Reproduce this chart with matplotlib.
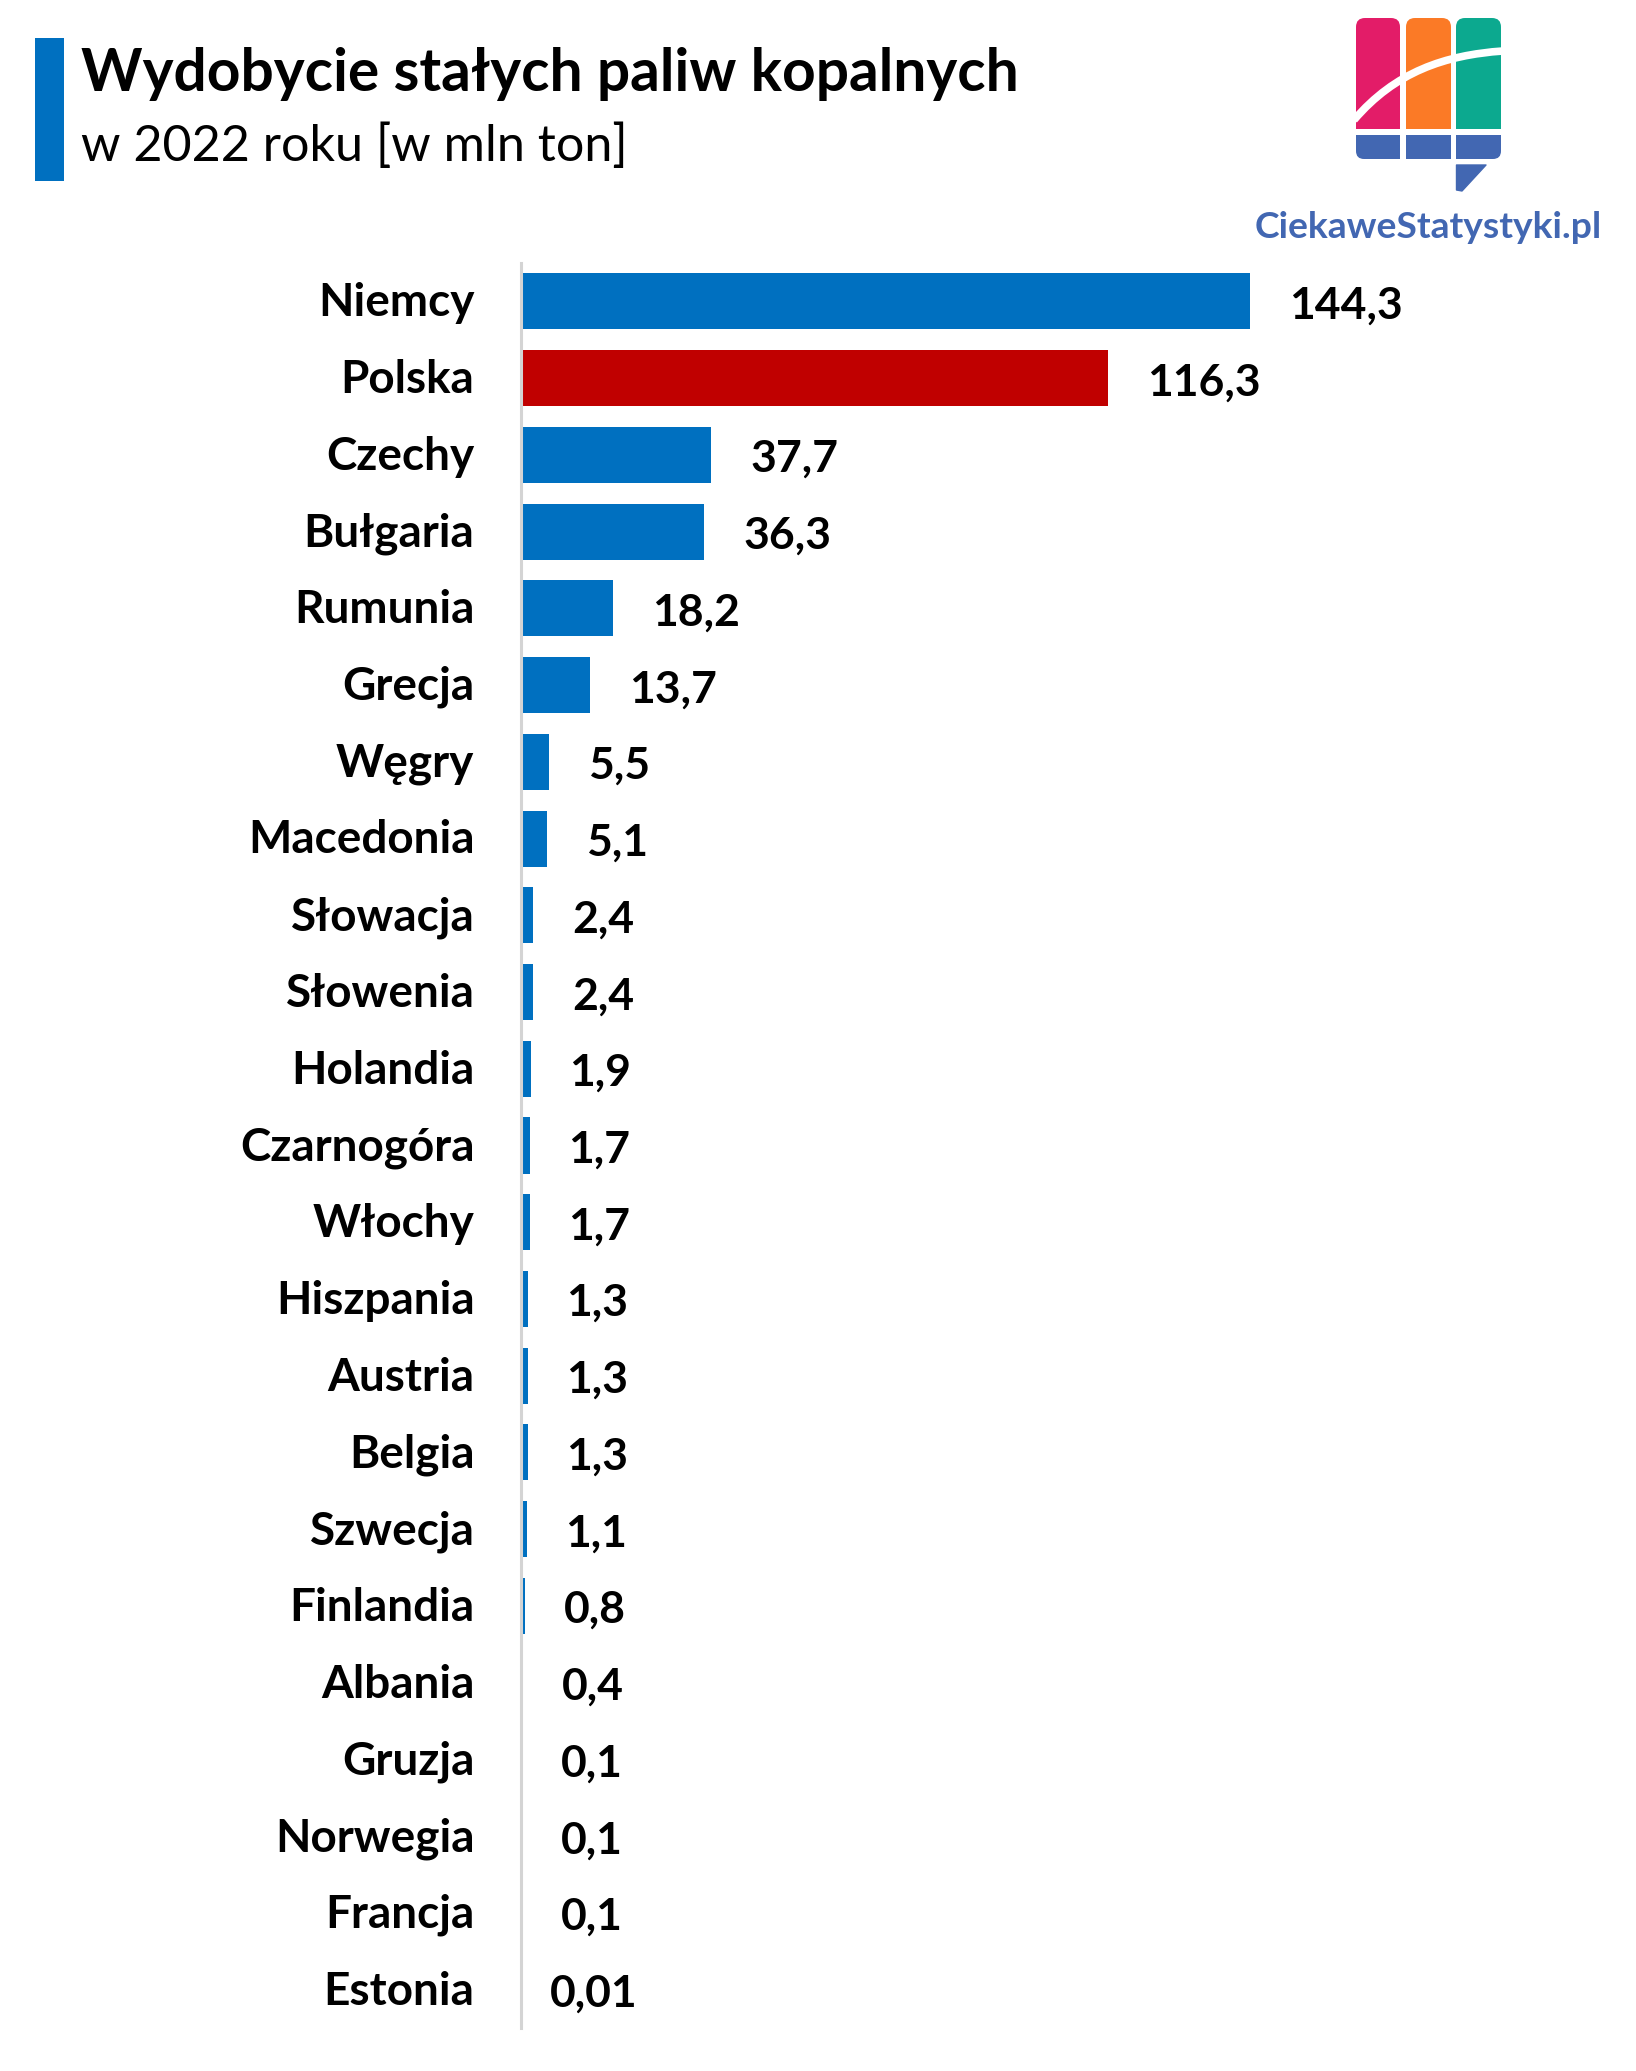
import matplotlib
matplotlib.use('Agg')
import matplotlib.pyplot as plt
from matplotlib.patches import Rectangle, Polygon, FancyBboxPatch, PathPatch
from matplotlib.path import Path
from matplotlib.transforms import ScaledTranslation

plt.rcParams['font.family'] = ['Lato', 'DejaVu Sans']

countries = ['Niemcy', 'Polska', 'Czechy', 'Bułgaria', 'Rumunia', 'Grecja', 'Węgry', 'Macedonia',
             'Słowacja', 'Słowenia', 'Holandia', 'Czarnogóra', 'Włochy', 'Hiszpania', 'Austria',
             'Belgia', 'Szwecja', 'Finlandia', 'Albania', 'Gruzja', 'Norwegia', 'Francja', 'Estonia']
values = [144.3, 116.3, 37.7, 36.3, 18.2, 13.7, 5.5, 5.1,
          2.4, 2.4, 1.9, 1.7, 1.7, 1.3, 1.3,
          1.3, 1.1, 0.8, 0.4, 0.1, 0.1, 0.1, 0.01]
value_labels = ['144,3', '116,3', '37,7', '36,3', '18,2', '13,7', '5,5', '5,1',
                '2,4', '2,4', '1,9', '1,7', '1,7', '1,3', '1,3',
                '1,3', '1,1', '0,8', '0,4', '0,1', '0,1', '0,1', '0,01']
highlight = 'Polska'

W, H = 1636, 2071
BLUE = '#0070C0'
RED = '#C00000'
LOGO_BLUE = '#4267B2'

fig = plt.figure(figsize=(W / 100, H / 100), dpi=100, facecolor='white')

# wykres - os Y na x=521 px, 263..2028 px w pionie
ax = fig.add_axes([521 / W, 1 - 2028 / H, (W - 521) / W, (2028 - 263) / H])
colors = [RED if c == highlight else BLUE for c in countries]
ax.barh(range(len(countries)), values, height=0.73, color=colors)
ax.set_xlim(0, (W - 521) / 5.05)
ax.set_ylim(len(countries) - 0.5, -0.5)
ax.set_yticks(range(len(countries)))
ax.set_yticklabels(countries, fontsize=33, fontweight='bold', color='black')
ax.tick_params(axis='y', length=0, pad=33.5)
ax.set_xticks([])
for s in ['top', 'right', 'bottom']:
    ax.spines[s].set_visible(False)
ax.spines['left'].set_color('#D4D4D4')
ax.spines['left'].set_linewidth(2.2)

# nazwy krajow minimalnie wyzej
shift = ScaledTranslation(0, 1.5 / 72, fig.dpi_scale_trans)
for lab in ax.get_yticklabels():
    lab.set_transform(lab.get_transform() + shift)

for i, (v, t) in enumerate(zip(values, value_labels)):
    # 0,01 stoi blizej osi niz pozostale etykiety
    off = 20.5 if t == '0,01' else 28
    ax.annotate(t, (v, i), xytext=(off, -3), textcoords='offset points',
                va='center', ha='left', fontsize=32, fontweight='bold', color='black')

# warstwa w pikselach - naglowek i logo
over = fig.add_axes([0, 0, 1, 1])
over.set_xlim(0, W)
over.set_ylim(H, 0)
over.axis('off')
over.patch.set_alpha(0)

over.add_patch(Rectangle((35, 38), 29, 143, color=BLUE, lw=0))
over.text(81, 91, 'Wydobycie stałych paliw kopalnych', fontsize=42.2, fontweight='bold',
          va='baseline', ha='left', color='black')
over.text(81, 161, 'w 2022 roku [w mln ton]', fontsize=36.2, va='baseline', ha='left', color='black')


def logo_column(x0, x1, color):
    over.add_patch(FancyBboxPatch((x0 + 9, 27), x1 - x0 - 18, 60, boxstyle='round,pad=9',
                                  fc=color, ec='none'))
    over.add_patch(Rectangle((x0, 60), x1 - x0, 69, color=color, lw=0))


logo_column(1356, 1400, '#E31C68')
logo_column(1406, 1451, '#FB7A26')
logo_column(1456, 1501, '#0CA98F')

# dolny rzad logo
over.add_patch(FancyBboxPatch((1364, 143), 28, 8, boxstyle='round,pad=8', fc=LOGO_BLUE, ec='none'))
over.add_patch(Rectangle((1356, 135), 44, 12, color=LOGO_BLUE, lw=0))
over.add_patch(Rectangle((1390, 135), 10, 24, color=LOGO_BLUE, lw=0))
over.add_patch(Rectangle((1406, 135), 45, 24, color=LOGO_BLUE, lw=0))
over.add_patch(FancyBboxPatch((1464, 143), 29, 8, boxstyle='round,pad=8', fc=LOGO_BLUE, ec='none'))
over.add_patch(Rectangle((1456, 135), 45, 12, color=LOGO_BLUE, lw=0))
over.add_patch(Rectangle((1456, 135), 10, 24, color=LOGO_BLUE, lw=0))
over.add_patch(Polygon([(1456.5, 165), (1486, 165), (1462, 191), (1456.5, 190)], closed=True,
                       fc=LOGO_BLUE, ec=LOGO_BLUE, lw=1, joinstyle='round'))

# biala krzywa na slupkach
curve = Path([(1354, 120), (1395, 72), (1445, 55), (1503, 51)],
             [Path.MOVETO, Path.CURVE4, Path.CURVE4, Path.CURVE4])
over.add_patch(PathPatch(curve, fc='none', ec='white', lw=5.5, capstyle='butt'))

over.text(1428, 238, 'CiekaweStatystyki.pl', fontsize=26.8, fontweight='bold', color=LOGO_BLUE,
          va='baseline', ha='center')

fig.savefig('out.png', dpi=100)
